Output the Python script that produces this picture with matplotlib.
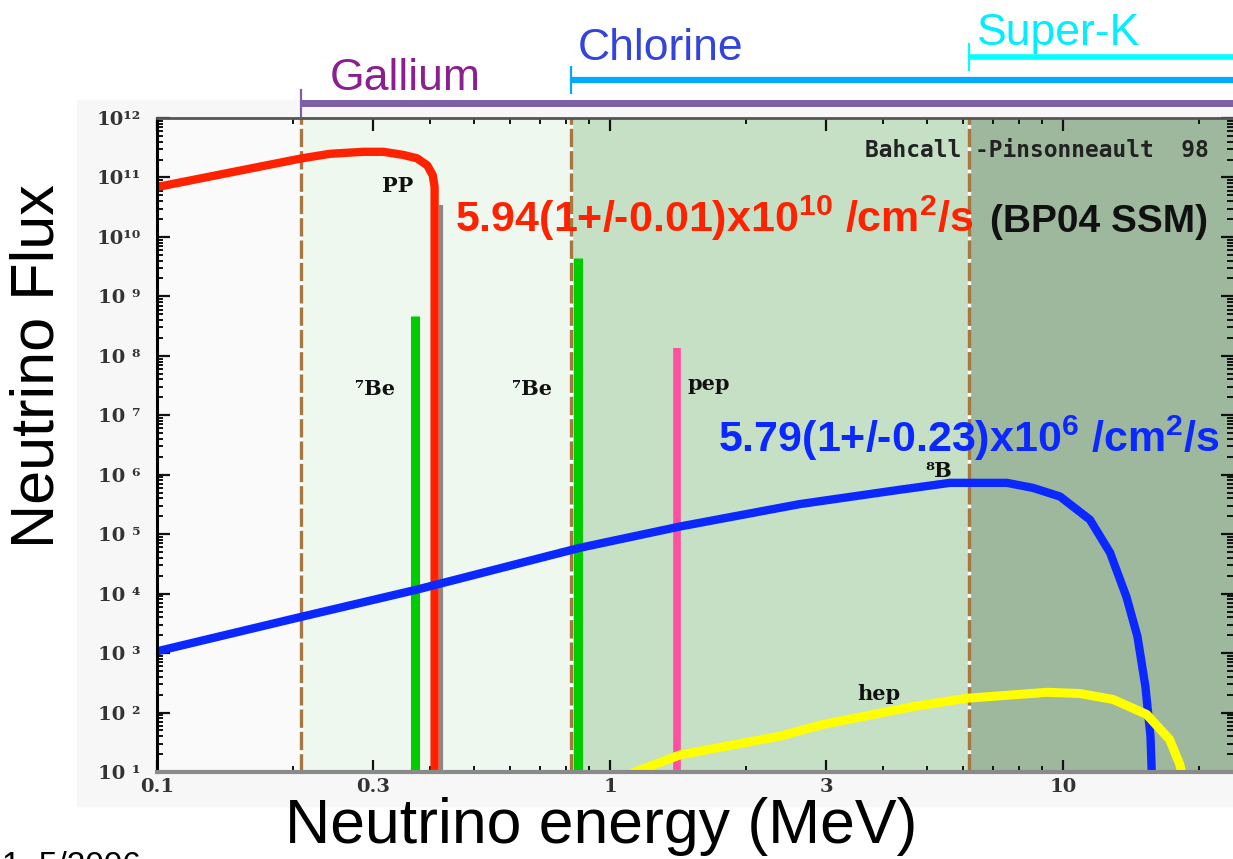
import matplotlib
matplotlib.use("Agg")
import matplotlib.pyplot as plt
from matplotlib.patches import Rectangle
from matplotlib.ticker import FixedLocator, LogLocator, NullFormatter
import matplotlib.transforms as mtransforms

plt.rcParams['mathtext.fontset'] = 'custom'
plt.rcParams['mathtext.rm'] = 'Liberation Sans'
plt.rcParams['mathtext.bf'] = 'Liberation Sans:bold'

# solar neutrino spectra (energy in MeV, flux)
pp_energy = [0.1, 0.209, 0.241, 0.285, 0.316, 0.349, 0.375, 0.395, 0.406, 0.41, 0.41]
pp_flux = [6.9e10, 2.1e11, 2.5e11, 2.7e11, 2.7e11, 2.4e11, 2.1e11, 1.6e11, 1.1e11, 7.0e10, 1.0]

b8_energy = [0.1, 0.209, 0.375, 0.858, 1.43, 2.62, 4.37, 5.63, 7.52, 8.59, 9.85,
             11.47, 12.7, 13.8, 14.6, 15.2, 15.6, 15.75]
b8_flux = [1.07e3, 4.1e3, 1.17e4, 5.9e4, 1.35e5, 3.2e5, 5.6e5, 7.3e5, 7.3e5, 6.0e5, 4.3e5,
           1.75e5, 4.9e4, 8.9e3, 1.9e3, 2.75e2, 40.0, 5.0]

hep_energy = [1.135, 1.43, 2.37, 2.95, 4.67, 6.14, 9.22, 10.9, 12.9, 15.3, 17.2, 18.1, 18.4]
hep_flux = [10.0, 19.5, 40.0, 63.0, 126.0, 174.0, 219.0, 209.0, 166.0, 93.0, 35.0, 13.5, 8.0]

# line sources: (energy, flux, colour)
line_energy = [0.372, 0.849, 1.406]
line_flux = [4.6e8, 4.5e9, 1.35e8]
line_colors = ['#00cc00', '#00cc00', '#ff4fa0']

# detector thresholds (MeV)
thr_gallium = 0.208
thr_chlorine = 0.82
thr_superk = 6.2

x_ticks = [0.1, 0.3, 1, 3, 10]
x_tick_labels = ['0.1', '0.3', '1', '3', '10']
y_ticks = [1e1, 1e2, 1e3, 1e4, 1e5, 1e6, 1e7, 1e8, 1e9, 1e10, 1e11, 1e12]
y_tick_labels = ['10 ¹', '10 ²', '10 ³', '10 ⁴', '10 ⁵', '10 ⁶', '10 ⁷', '10 ⁸', '10 ⁹',
                 '10¹⁰', '10¹¹', '10¹²']

W, H = 1233, 859
fig = plt.figure(figsize=(W / 100, H / 100), dpi=100)

# light grey frame behind the plot
fig.patches.append(Rectangle((77 / W, (H - 806) / H), (W - 77) / W, (806 - 100) / H,
                             transform=fig.transFigure, color='#f7f7f7', zorder=-5))

ax = fig.add_axes([157 / W, (H - 772) / H, (W - 157) / W, 654 / H])
ax.set_xscale('log')
ax.set_yscale('log')
xmax = 10 ** (-1 + (W - 157) / 453)
ax.set_xlim(0.1, xmax)
ax.set_ylim(10, 1e12)
ax.patch.set_alpha(0)

# shaded sensitivity regions
ax.axvspan(0.1, thr_gallium, color='#fafafa', zorder=0, lw=0)
ax.axvspan(thr_gallium, thr_chlorine, color='#eef8ee', zorder=0, lw=0)
ax.axvspan(thr_chlorine, thr_superk, color='#c5e0c5', zorder=0, lw=0)
ax.axvspan(thr_superk, xmax, color='#9db89d', zorder=0, lw=0)

for thr in [thr_gallium, thr_chlorine, thr_superk]:
    ax.axvline(thr, color='#a8773f', lw=2.4, linestyle=(0, (5.5, 1.2)),
               gapcolor='#ffffff', zorder=1)

# pp spectrum and its edge
ax.vlines(0.424, 10, 3.5e10, color='#888888', lw=3, zorder=2)
ax.plot(pp_energy, pp_flux, color='#ff2200', lw=6, solid_joinstyle='round',
        solid_capstyle='butt', zorder=4)

# 7Be and pep lines
for e, f, c in zip(line_energy, line_flux, line_colors):
    ax.vlines(e, 10, f, color=c, lw=6.5 if c == '#00cc00' else 5.5, zorder=3)

ax.plot(b8_energy, b8_flux, color='#0a28ff', lw=6, solid_joinstyle='round', zorder=4)
ax.plot(hep_energy, hep_flux, color='#ffff00', lw=6.5, solid_joinstyle='round', zorder=4)

# axes styling
ax.xaxis.set_major_locator(FixedLocator(x_ticks))
ax.set_xticklabels(x_tick_labels)
ax.xaxis.set_minor_locator(LogLocator(base=10, subs=range(2, 10), numticks=20))
ax.xaxis.set_minor_formatter(NullFormatter())
ax.yaxis.set_major_locator(FixedLocator(y_ticks))
ax.set_yticklabels(y_tick_labels)
ax.yaxis.set_minor_locator(LogLocator(base=10, subs=range(2, 10), numticks=20))
ax.yaxis.set_minor_formatter(NullFormatter())

ax.tick_params(which='both', direction='in', top=True, right=True, color='#111111')
ax.tick_params(which='major', length=9, width=1.6)
ax.tick_params(which='minor', length=4.5, width=1.4)
ax.tick_params(axis='y', which='major', pad=12)
ax.tick_params(axis='x', which='major', pad=4)
for lab in ax.get_xticklabels() + ax.get_yticklabels():
    lab.set_fontfamily('DejaVu Serif')
    lab.set_fontweight('bold')
    lab.set_fontsize(14)
    lab.set_color('#333333')

ax.spines['left'].set_color('#000000')
ax.spines['left'].set_linewidth(2.2)
ax.spines['bottom'].set_color('#8a8a8a')
ax.spines['bottom'].set_linewidth(3)
ax.spines['top'].set_color('#555555')
ax.spines['top'].set_linewidth(2)
ax.spines['right'].set_visible(False)
for sp in ax.spines.values():
    sp.set_zorder(6)

# detector ranges above the plot
trans = mtransforms.blended_transform_factory(ax.transData, ax.transAxes)
bars = [
    (thr_gallium, 1.023, 1.043, '#7d5fa5', 5.0, 'Gallium', 0.241, 1.043, '#8a2090'),
    (thr_chlorine, 1.058, 1.078, '#00aaff', 4.5, 'Chlorine', 0.85, 1.089, '#3344dd'),
    (thr_superk, 1.093, 1.113, '#00ffff', 4.0, 'Super-K', 6.45, 1.112, '#00eeff'),
]
for x0, yb, ytop, bc, lw, name, tx, ty, tc in bars:
    ax.plot([x0, xmax * 1.05], [yb, yb], color=bc, lw=lw, transform=trans,
            clip_on=False, solid_capstyle='butt')
    ax.plot([x0, x0], [yb - 0.02, ytop], color=bc, lw=1.6, transform=trans, clip_on=False)
    ax.text(tx, ty, name, color=tc, fontsize=32, family='Liberation Sans',
            va='baseline', ha='left', transform=trans, clip_on=False)

# annotations
ax.text(0.455, 1.2e10, r"5.94(1+/-0.01)x10$^{\mathbf{10}}$ /cm$^{\mathbf{2}}$/s",
        color='#ff2200', fontsize=31, fontweight='bold', family='Liberation Sans',
        va='baseline', zorder=7)
ax.text(6.9, 1.2e10, "(BP04 SSM)", color='#111111', fontsize=28, fontweight='bold',
        family='Liberation Sans', va='baseline', zorder=7)
ax.text(1.73, 2.45e6, r"5.79(1+/-0.23)x10$^{\mathbf{6}}$ /cm$^{\mathbf{2}}$/s",
        color='#0a28ff', fontsize=31, fontweight='bold', family='Liberation Sans',
        va='baseline', zorder=7)
ax.text(3.66, 2.2e11, "Bahcall -Pinsonneault  98", color='#222222', fontsize=16.5,
        fontweight='bold', family='DejaVu Sans Mono', va='baseline', zorder=7)

serif = dict(color='#111111', fontsize=15, fontweight='bold', family='DejaVu Serif',
             va='baseline', zorder=7)
ax.text(0.314, 5.8e10, "PP", **serif)
ax.text(0.274, 2.2e7, "⁷Be", **serif)
ax.text(0.608, 2.2e7, "⁷Be", **serif)
ax.text(1.486, 2.7e7, "pep", **serif)
ax.text(4.96, 9.0e5, "⁸B", **serif)
ax.text(3.51, 1.65e2, "hep", **serif)

# axis titles
fig.text(38 / W, 1 - 366 / H, "Neutrino Flux", rotation=90, fontsize=44,
         family='Liberation Sans', ha='center', va='center')
fig.text(601 / W, 1 - 843 / H, "Neutrino energy (MeV)", fontsize=45,
         family='Liberation Sans', ha='center', va='baseline')
fig.text(2 / W, 1 - 851 / H, "1. 5/2006", fontsize=24, family='Liberation Sans',
         ha='left', va='top')

fig.savefig("out.png", dpi=100)
